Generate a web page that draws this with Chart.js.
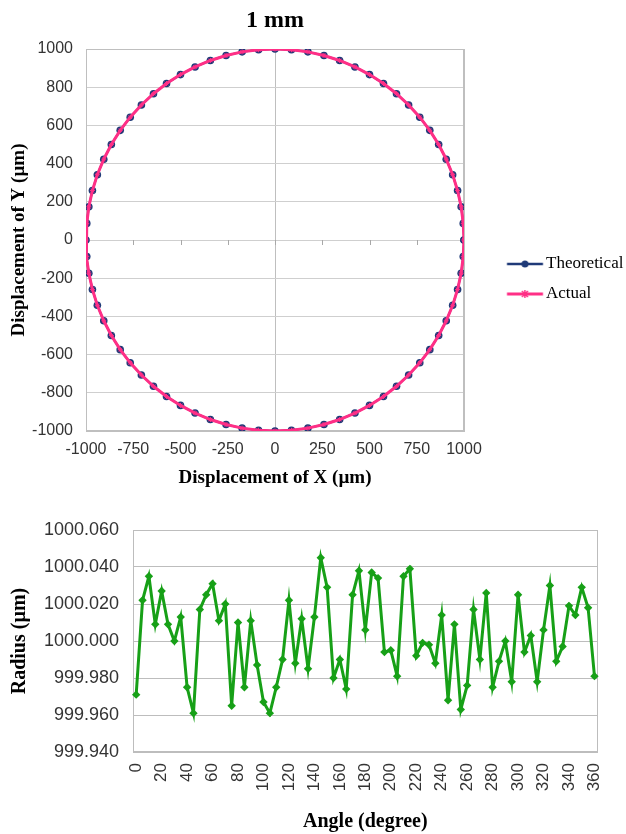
<!DOCTYPE html>
<html>
<head>
<meta charset="utf-8">
<script src="https://cdn.jsdelivr.net/npm/chart.js@4.4.1/dist/chart.umd.min.js"></script>
<style>
  html, body { margin: 0; padding: 0; background: #ffffff; }
  #wrap { position: relative; width: 626px; height: 834px; overflow: hidden; }
  canvas { position: absolute; left: 0; }
</style>
</head>
<body>
<div id="wrap">
  <canvas id="radiusChart" width="626" height="329" style="top:505px"></canvas>
  <canvas id="circleChart" width="626" height="558" style="top:0px"></canvas>
</div>
<script>
// ---------- DATA ----------
// Top chart: circle path, points every 5 degrees (µm)
const theoreticalX = [
  1000, 996, 985, 966, 940, 906, 866, 819, 766, 707, 643, 574, 500, 423, 342, 259, 174, 87, 0,
  -87, -174, -259, -342, -423, -500, -574, -643, -707, -766, -819, -866, -906, -940, -966, -985, -996, -1000,
  -996, -985, -966, -940, -906, -866, -819, -766, -707, -643, -574, -500, -423, -342, -259, -174, -87, 0,
  87, 174, 259, 342, 423, 500, 574, 643, 707, 766, 819, 866, 906, 940, 966, 985, 996, 1000
];
const theoreticalY = [
  0, 87, 174, 259, 342, 423, 500, 574, 643, 707, 766, 819, 866, 906, 940, 966, 985, 996, 1000,
  996, 985, 966, 940, 906, 866, 819, 766, 707, 643, 574, 500, 423, 342, 259, 174, 87, 0,
  -87, -174, -259, -342, -423, -500, -574, -643, -707, -766, -819, -866, -906, -940, -966, -985, -996, -1000,
  -996, -985, -966, -940, -906, -866, -819, -766, -707, -643, -574, -500, -423, -342, -259, -174, -87, 0
];
// Actual path coincides with the theoretical one at this scale
const actualX = theoreticalX.slice();
const actualY = theoreticalY.slice();
const seriesNames = ['Theoretical', 'Actual'];
const circleXTicks = [-1000, -750, -500, -250, 0, 250, 500, 750, 1000];
const circleYTicks = [-1000, -800, -600, -400, -200, 0, 200, 400, 600, 800, 1000];

// Bottom chart: measured radius vs angle
const angles = [
  0, 5, 10, 15, 20, 25, 30, 35, 40, 45, 50, 55, 60, 65, 70, 75, 80, 85, 90,
  95, 100, 105, 110, 115, 120, 125, 130, 135, 140, 145, 150, 155, 160, 165, 170, 175, 180,
  185, 190, 195, 200, 205, 210, 215, 220, 225, 230, 235, 240, 245, 250, 255, 260, 265, 270,
  275, 280, 285, 290, 295, 300, 305, 310, 315, 320, 325, 330, 335, 340, 345, 350, 355, 360
];
const radius = [
  999.971, 1000.022, 1000.035, 1000.009, 1000.027, 1000.009, 1000.000, 1000.013, 999.975, 999.961,
  1000.017, 1000.025, 1000.031, 1000.011, 1000.020, 999.965, 1000.010, 999.975, 1000.011, 999.987,
  999.967, 999.961, 999.975, 999.990, 1000.022, 999.988, 1000.012, 999.985, 1000.013, 1000.045,
  1000.029, 999.980, 999.990, 999.974, 1000.025, 1000.038, 1000.006, 1000.037, 1000.034, 999.994,
  999.995, 999.981, 1000.035, 1000.039, 999.992, 999.999, 999.998, 999.988, 1000.014, 999.968,
  1000.009, 999.963, 999.976, 1000.017, 999.990, 1000.026, 999.975, 999.989, 1000.000, 999.978,
  1000.025, 999.994, 1000.003, 999.978, 1000.006, 1000.030, 999.989, 999.997, 1000.019, 1000.014,
  1000.029, 1000.018, 999.981
];
const radiusTicks = [999.94, 999.96, 999.98, 1000.00, 1000.02, 1000.04, 1000.06];

// ---------- STYLE ----------
const NAVY = '#1F3A78';
const PINK = '#FF2F86';
const GREEN = '#17A017';
const GRID = '#CFCFCF';
const SANS = '"Liberation Sans", Arial, sans-serif';
const SERIF = '"Liberation Serif", "Times New Roman", serif';

Chart.defaults.font.family = SANS;
Chart.defaults.color = '#333333';

// legend swatch images (line + marker)
function swatch(color, lw, marker) {
  const c = document.createElement('canvas');
  c.width = 74; c.height = 12;
  const g = c.getContext('2d');
  g.strokeStyle = color; g.lineWidth = lw;
  g.beginPath(); g.moveTo(36.75, 6); g.lineTo(72.75, 6); g.stroke();
  g.fillStyle = color;
  if (marker === 'dot') {
    g.beginPath(); g.arc(54.75, 6, 3.5, 0, Math.PI * 2); g.fill();
  } else {
    g.lineWidth = 1.5;
    g.beginPath();
    g.moveTo(51.75, 3); g.lineTo(57.75, 9);
    g.moveTo(57.75, 3); g.lineTo(51.75, 9);
    g.moveTo(54.75, 2); g.lineTo(54.75, 10);
    g.stroke();
  }
  return c;
}

const frame = {
  id: 'frame',
  beforeDatasetsDraw(chart, args, opts) {
    const { ctx, chartArea: a } = chart;
    ctx.save();
    ctx.strokeStyle = opts.color || '#BFBFBF';
    ctx.lineWidth = 1;
    const l = Math.round(a.left) + 0.5, t = Math.round(a.top) + 0.5;
    const r = Math.round(a.right) - 0.5, b = Math.round(a.bottom) - 0.5;
    ctx.strokeRect(l, t, r - l, b - t);
    ctx.restore();
  }
};

const axisTickMarks = {
  id: 'axisTickMarks',
  beforeDatasetsDraw(chart) {
    const { ctx } = chart;
    const xs = chart.scales.x, ys = chart.scales.y;
    const y0 = Math.round(ys.getPixelForValue(0));
    ctx.save();
    ctx.strokeStyle = '#A8A8A8';
    ctx.lineWidth = 1;
    ctx.beginPath();
    circleXTicks.forEach(v => {
      if (Math.abs(v) < 1000) {
        const px = Math.round(xs.getPixelForValue(v)) + 0.5;
        ctx.moveTo(px, y0); ctx.lineTo(px, y0 + 5);
      }
    });
    ctx.stroke();
    ctx.restore();
  }
};

// let the legend box reach the canvas edge so its text is not clipped
const legendEdge = {
  id: 'legendEdge',
  afterLayout(chart) {
    const lg = chart.legend;
    if (lg) { lg.right = chart.width; lg.width = lg.right - lg.left; }
  }
};

// ---------- TOP CHART ----------
new Chart(document.getElementById('circleChart'), {
  type: 'scatter',
  data: {
    datasets: [
      {
        label: seriesNames[0],
        data: theoreticalX.map((x, i) => ({ x: x, y: theoreticalY[i] })),
        showLine: true,
        borderColor: NAVY,
        borderWidth: 2,
        pointRadius: 3.8,
        pointBackgroundColor: NAVY,
        pointBorderColor: NAVY,
        pointBorderWidth: 0,
        order: 2,
        legendImg: swatch(NAVY, 2.5, 'dot')
      },
      {
        label: seriesNames[1],
        data: actualX.map((x, i) => ({ x: x, y: actualY[i] })),
        showLine: true,
        borderColor: PINK,
        borderWidth: 3,
        pointStyle: 'star',
        pointRadius: 2.5,
        pointBorderColor: PINK,
        pointBorderWidth: 1,
        pointBackgroundColor: PINK,
        order: 1,
        legendImg: swatch(PINK, 3, 'star')
      }
    ]
  },
  options: {
    responsive: false,
    animation: false,
    devicePixelRatio: 1,
    layout: { padding: { top: 0, left: 0, bottom: 0, right: 12 } },
    plugins: {
      tooltip: { enabled: false },
      frame: { color: '#BFBFBF' },
      title: {
        display: true,
        text: '1 mm',
        fullSize: false,
        color: '#000',
        font: { family: SERIF, size: 24, weight: 'bold' },
        padding: { top: 6.6, bottom: 13.6 }
      },
      legend: {
        position: 'right',
        align: 'center',
        maxWidth: 150,
        labels: {
          usePointStyle: true,
          pointStyleWidth: 60.5,
          padding: 13,
          color: '#000',
          font: { family: SERIF, size: 17 },
          sort: (a, b) => a.datasetIndex - b.datasetIndex,
          generateLabels(chart) {
            return chart.data.datasets.map((ds, i) => ({
              text: ds.label,
              pointStyle: ds.legendImg,
              fillStyle: ds.borderColor,
              strokeStyle: ds.borderColor,
              lineWidth: 0,
              hidden: false,
              datasetIndex: i
            }));
          }
        }
      }
    },
    scales: {
      x: {
        type: 'linear',
        min: -1000, max: 1000,
        afterBuildTicks(s) { s.ticks = circleXTicks.map(v => ({ value: v })); },
        afterFit(s) { s.height = 127; },
        grid: {
          drawTicks: false,
          color: c => (c.tick && (c.tick.value === 0 || Math.abs(c.tick.value) === 1000)) ? '#BFBFBF' : 'rgba(0,0,0,0)'
        },
        border: { color: '#BFBFBF' },
        ticks: {
          padding: 9.4, color: '#333', font: { size: 16 },
          maxRotation: 0, minRotation: 0, autoSkip: false,
          callback: v => String(v)
        },
        title: {
          display: true,
          text: 'Displacement of X (µm)',
          color: '#000',
          font: { family: SERIF, size: 19, weight: 'bold' },
          padding: { top: 0, bottom: 68.6 }
        }
      },
      y: {
        type: 'linear',
        min: -1000, max: 1000,
        afterBuildTicks(s) { s.ticks = circleYTicks.map(v => ({ value: v })); },
        afterFit(s) { s.width = 86; },
        grid: { drawTicks: false, color: GRID },
        border: { color: '#BFBFBF' },
        ticks: { padding: 13, color: '#333', font: { size: 16 }, callback: v => String(v) },
        title: {
          display: true,
          text: 'Displacement of Y (µm)',
          color: '#000',
          font: { family: SERIF, size: 19, weight: 'bold' },
          padding: { top: 7.6, bottom: 0 }
        }
      }
    }
  },
  plugins: [frame, axisTickMarks, legendEdge]
});

// ---------- BOTTOM CHART ----------
new Chart(document.getElementById('radiusChart'), {
  type: 'line',
  data: {
    labels: angles.map(String),
    datasets: [{
      label: 'Radius',
      data: radius,
      borderColor: GREEN,
      backgroundColor: GREEN,
      borderWidth: 3,
      pointStyle: 'rectRot',
      pointRadius: 4.2,
      pointBackgroundColor: GREEN,
      pointBorderColor: GREEN,
      pointBorderWidth: 0,
      tension: 0
    }]
  },
  options: {
    responsive: false,
    animation: false,
    devicePixelRatio: 1,
    layout: { padding: { top: 25, left: 0, bottom: 0, right: 21 } },
    plugins: {
      legend: { display: false },
      tooltip: { enabled: false },
      frame: { color: '#BDBDBD' }
    },
    scales: {
      x: {
        type: 'category',
        offset: true,
        afterFit(s) { s.height = 82; },
        grid: { display: false, drawTicks: false },
        border: { color: '#BDBDBD' },
        ticks: {
          autoSkip: false,
          maxRotation: 90,
          minRotation: 90,
          padding: 11,
          color: '#333',
          font: { size: 17 },
          callback: (v, i) => (angles[i] % 20 === 0 ? String(angles[i]) : '')
        },
        title: {
          display: true,
          text: 'Angle (degree)',
          color: '#000',
          font: { family: SERIF, size: 20, weight: 'bold' },
          padding: { top: 0, bottom: 0 }
        }
      },
      y: {
        min: radiusTicks[0],
        max: radiusTicks[radiusTicks.length - 1],
        afterBuildTicks(s) { s.ticks = radiusTicks.map(v => ({ value: v })); },
        afterFit(s) { s.width = 133; },
        grid: { drawTicks: false, color: '#BDBDBD' },
        border: { color: '#BDBDBD' },
        ticks: {
          padding: 14,
          color: '#333',
          font: { size: 18 },
          callback: v => Number(v).toFixed(3)
        },
        title: {
          display: true,
          text: 'Radius (µm)',
          color: '#000',
          font: { family: SERIF, size: 20, weight: 'bold' },
          padding: { top: 8, bottom: 0 }
        }
      }
    }
  },
  plugins: [frame]
});
</script>
</body>
</html>
